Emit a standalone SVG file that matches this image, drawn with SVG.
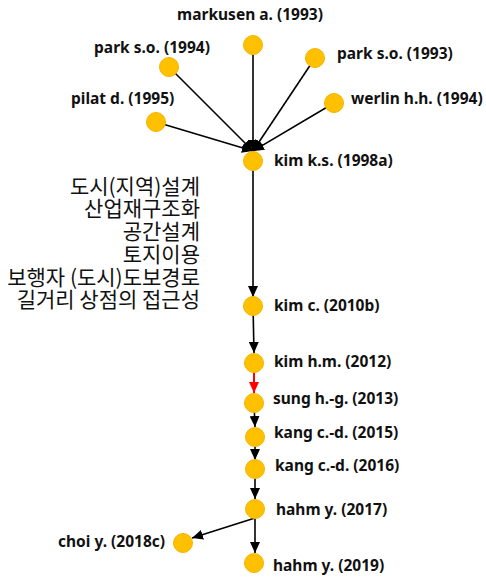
<svg xmlns="http://www.w3.org/2000/svg" width="486" height="577" viewBox="0 0 486 577">
<style>
.lbl{font-family:"Noto Sans","Liberation Sans",Arial,sans-serif;font-weight:bold;font-size:15.5px;fill:#111}
.kr{font-family:"Noto Sans CJK KR","Noto Sans",sans-serif;font-size:21px;fill:#111;text-anchor:end}
.nd{fill:#FFC000;stroke:#F5B500;stroke-width:1}
.ln{stroke:#000;stroke-width:1.6;fill:none}
</style>
<defs>
<marker id="ah" markerUnits="userSpaceOnUse" markerWidth="11" markerHeight="10" refX="11" refY="5" orient="auto">
<path d="M0,0 L11,5 L0,10 z" fill="#000"/>
</marker>
<marker id="ahr" markerUnits="userSpaceOnUse" markerWidth="11" markerHeight="10" refX="11" refY="5" orient="auto">
<path d="M0,0 L11,5 L0,10 z" fill="#FF0000"/>
</marker>
</defs>
<rect width="486" height="577" fill="#fff"/>
<g id="connectors">
<line class="ln" x1="253" y1="45" x2="253" y2="151" marker-end="url(#ah)"/>
<line class="ln" x1="169" y1="67" x2="253" y2="151" marker-end="url(#ah)"/>
<line class="ln" x1="315" y1="58" x2="253" y2="151" marker-end="url(#ah)"/>
<line class="ln" x1="334" y1="103" x2="253" y2="151" marker-end="url(#ah)"/>
<line class="ln" x1="156" y1="122" x2="253" y2="151" marker-end="url(#ah)"/>
<line class="ln" x1="253" y1="161" x2="253" y2="297" marker-end="url(#ah)"/>
<line class="ln" x1="253" y1="306" x2="254" y2="353" marker-end="url(#ah)"/>
<line x1="254" y1="363" x2="254" y2="393" stroke="#FF0000" stroke-width="2" marker-end="url(#ahr)"/>
<line class="ln" x1="254" y1="403" x2="255" y2="427" marker-end="url(#ah)"/>
<line class="ln" x1="255" y1="437" x2="255" y2="460" marker-end="url(#ah)"/>
<line class="ln" x1="255" y1="469" x2="255" y2="499" marker-end="url(#ah)"/>
<line class="ln" x1="255" y1="518" x2="192" y2="538" marker-end="url(#ah)"/>
<line class="ln" x1="255" y1="509" x2="255" y2="553" marker-end="url(#ah)"/>
</g>
<g id="n-markusen"><circle class="nd" cx="253" cy="45" r="9.5"/><text class="lbl" x="250" y="20" text-anchor="middle">markusen a. (1993)</text></g>
<g id="n-park1994"><circle class="nd" cx="169" cy="67" r="9.5"/><text class="lbl" x="152" y="53" text-anchor="middle">park s.o. (1994)</text></g>
<g id="n-park1993"><circle class="nd" cx="315" cy="58" r="9.5"/><text class="lbl" x="337" y="59">park s.o. (1993)</text></g>
<g id="n-werlin"><circle class="nd" cx="334" cy="103" r="9.5"/><text class="lbl" x="351" y="104">werlin h.h. (1994)</text></g>
<g id="n-pilat"><circle class="nd" cx="156" cy="122" r="9.5"/><text class="lbl" x="71" y="104">pilat d. (1995)</text></g>
<g id="n-kimks"><circle class="nd" cx="253" cy="161" r="9.5"/><text class="lbl" x="274" y="166">kim k.s. (1998a)</text></g>
<g id="keywords">
<text class="kr"><tspan x="200" y="194">도시(지역)설계</tspan><tspan x="200" y="216">산업재구조화</tspan><tspan x="200" y="239">공간설계</tspan><tspan x="200" y="262">토지이용</tspan><tspan x="200" y="285">보행자 (도시)도보경로</tspan><tspan x="200" y="307">길거리 상점의 접근성</tspan></text>
</g>
<g id="n-kimc"><circle class="nd" cx="253" cy="306" r="9.5"/><text class="lbl" x="274" y="311">kim c. (2010b)</text></g>
<g id="n-kimhm"><circle class="nd" cx="254" cy="363" r="9.5"/><text class="lbl" x="274" y="367">kim h.m. (2012)</text></g>
<g id="n-sung"><circle class="nd" cx="254" cy="403" r="9.5"/><text class="lbl" x="273" y="404">sung h.-g. (2013)</text></g>
<g id="n-kang2015"><circle class="nd" cx="255" cy="437" r="9.5"/><text class="lbl" x="274" y="438">kang c.-d. (2015)</text></g>
<g id="n-kang2016"><circle class="nd" cx="255" cy="469" r="9.5"/><text class="lbl" x="275" y="471">kang c.-d. (2016)</text></g>
<g id="n-hahm2017"><circle class="nd" cx="255" cy="509" r="9.5"/><text class="lbl" x="276" y="515">hahm y. (2017)</text></g>
<g id="n-choi"><circle class="nd" cx="183" cy="543" r="9.5"/><text class="lbl" x="58" y="547">choi y. (2018c)</text></g>
<g id="n-hahm2019"><circle class="nd" cx="254" cy="563" r="9.5"/><text class="lbl" x="273" y="571">hahm y. (2019)</text></g>
</svg>
